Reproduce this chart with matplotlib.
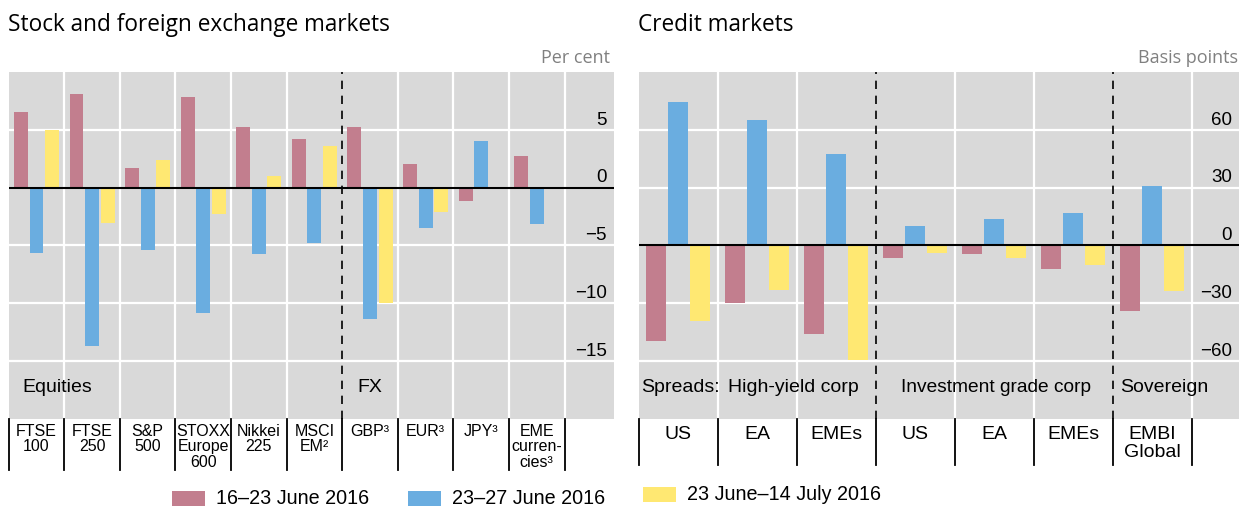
import numpy as np
import matplotlib
matplotlib.use("Agg")
import matplotlib.pyplot as plt
import matplotlib.transforms as mtransforms
from matplotlib.patches import Rectangle
from matplotlib.lines import Line2D

# ---------------- data ----------------
left_categories = ["FTSE\n100", "FTSE\n250", "S&P\n500", "STOXX\nEurope\n600", "Nikkei\n225",
                   "MSCI\nEM²", "GBP³", "EUR³", "JPY³", "EME\ncurren-\ncies³"]
left_red = [6.5, 8.1, 1.7, 7.8, 5.2, 4.2, 5.2, 2.0, -1.2, 2.7]
left_blue = [-5.7, -13.7, -5.4, -10.9, -5.8, -4.8, -11.4, -3.5, 4.0, -3.2]
left_yellow = [5.0, -3.1, 2.4, -2.3, 1.0, 3.6, -10.0, -2.1, np.nan, np.nan]
left_ticks = [5, 0, -5, -10, -15]
left_ticklabels = ["5", "0", "−5", "−10", "−15"]

right_categories = ["US", "EA", "EMEs", "US", "EA", "EMEs", "EMBI\nGlobal"]
right_red = [-49.5, -30.0, -46.3, -6.8, -4.7, -12.1, -34.2]
right_blue = [74.3, 64.9, 47.6, 10.0, 13.6, 16.7, 30.9]
right_yellow = [-39.5, -23.3, -59.5, -4.2, -6.8, -10.0, -23.7]
right_ticks = [60, 30, 0, -30, -60]
right_ticklabels = ["60", "30", "0", "−30", "−60"]

series_labels = ["16–23 June 2016", "23–27 June 2016", "23 June–14 July 2016"]

# ---------------- style ----------------
RED = "#C27E8E"
BLUE = "#6AADE0"
YELLOW = "#FFE872"
BG = "#D9D9D9"
BODY = "Liberation Sans"
HEAD = "Open Sans"

W, H = 1239, 507
fig = plt.figure(figsize=(W / 100, H / 100), dpi=100)
fig.patch.set_facecolor("white")


def fx(px):
    return px / W


def fy(py):
    return 1 - py / H


def setup_axes(ax, ncat, xmax, ylim, ticks, ticklabels, dashed, sep_depth, label_fs,
               cats, label_top, ls):
    ax.set_facecolor(BG)
    ax.set_xlim(-0.5, xmax)
    ax.set_ylim(*ylim)
    for s in ax.spines.values():
        s.set_visible(False)
    ax.set_xticks([])
    ax.set_yticks([])
    for t in ticks:
        ax.axhline(t, color="white", lw=1.6, zorder=1)
    for b in np.arange(0.5, ncat, 1.0):
        if b in dashed:
            continue
        ax.axvline(b, color="white", lw=1.6, zorder=1)
    for b in dashed:
        ax.axvline(b, color="black", lw=1.2, ls=(0, (5, 4)), zorder=4)
    ax.axhline(0, color="black", lw=1.5, zorder=5)
    # tick labels inside at the right
    trans = ax.get_yaxis_transform() + mtransforms.ScaledTranslation(0, 5.0 / 100, fig.dpi_scale_trans)
    for t, lab in zip(ticks, ticklabels):
        ax.text(0.9885, t, lab, transform=trans, ha="right", va="baseline",
                fontsize=13.5, family=BODY, color="black")
    # category separators below axes
    xt = ax.get_xaxis_transform()
    for b in np.arange(-0.5, ncat, 1.0):
        ax.add_line(Line2D([b, b], [0, -sep_depth], transform=xt, color="black",
                           lw=1.3, clip_on=False))
    for i, c in enumerate(cats):
        ax.text(i, label_top, c, transform=xt, ha="center", va="top",
                fontsize=label_fs, family=BODY, linespacing=ls, clip_on=False)


ax1 = fig.add_axes([fx(8.7), fy(418.5), fx(614 - 8.7), 346.5 / H])
ax2 = fig.add_axes([fx(638.5), fy(418.5), fx(1239 - 638.5), 346.5 / H])

setup_axes(ax1, len(left_categories), 10.39, (-20, 10), left_ticks, left_ticklabels,
           [5.5], 0.149, 11.5, left_categories, -0.016, 1.03)
setup_axes(ax2, len(right_categories), 7.1, (-90, 90), right_ticks, right_ticklabels,
           [2.5, 5.5], 0.134, 14, right_categories, -0.022, 1.08)

bw = 0.25
off = [-0.28, 0.0, 0.28]
x1 = np.arange(len(left_categories))
for o, vals, col in zip(off, [left_red, left_blue, left_yellow], [RED, BLUE, YELLOW]):
    ax1.bar(x1 + o, vals, width=bw, color=col, zorder=3)
x2 = np.arange(len(right_categories))
for o, vals, col in zip(off, [right_red, right_blue, right_yellow], [RED, BLUE, YELLOW]):
    ax2.bar(x2 + o, vals, width=bw, color=col, zorder=3)

# group labels
ax1.text(-0.26, -17.3, "Equities", ha="left", va="center", fontsize=14, family=BODY)
ax1.text(5.78, -17.3, "FX", ha="left", va="center", fontsize=14, family=BODY)
ax2.text(-0.47, -74, "Spreads:", ha="left", va="center", fontsize=14, family=BODY)
ax2.text(0.63, -74, "High-yield corp", ha="left", va="center", fontsize=14, family=BODY)
ax2.text(4.03, -74, "Investment grade corp", ha="center", va="center", fontsize=13.8, family=BODY)
ax2.text(5.6, -74, "Sovereign", ha="left", va="center", fontsize=14, family=BODY)

# titles and units
fig.text(fx(8), fy(25), "Stock and foreign exchange markets", ha="left", va="center",
         fontsize=16.3, family=HEAD)
fig.text(fx(638), fy(25), "Credit markets", ha="left", va="center", fontsize=16.3, family=HEAD)
fig.text(fx(610), fy(58), "Per cent", ha="right", va="center", fontsize=13,
         family=HEAD, color="#808080")
fig.text(fx(1238), fy(58), "Basis points", ha="right", va="center", fontsize=13,
         family=HEAD, color="#808080")

# legend
legend_pos = [(172, 498), (408, 498), (643, 494)]
for (px, py), col, lab in zip(legend_pos, [RED, BLUE, YELLOW], series_labels):
    fig.add_artist(Rectangle((fx(px), fy(py + 7.5)), 33 / W, 15 / H, transform=fig.transFigure,
                             facecolor=col, edgecolor="none"))
    fig.text(fx(px + 44), fy(py), lab, ha="left", va="center", fontsize=14.2, family=BODY)

fig.savefig("out.png", dpi=100)
